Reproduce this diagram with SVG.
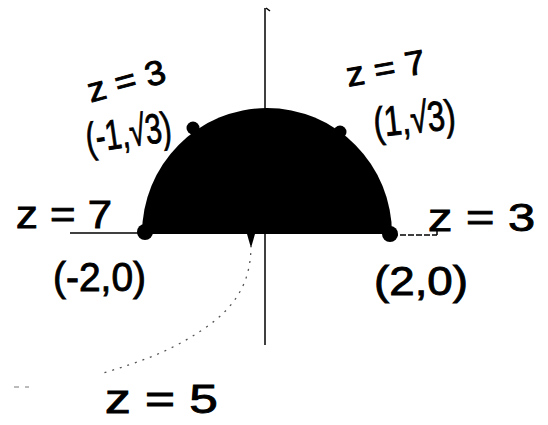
<svg xmlns="http://www.w3.org/2000/svg" width="548" height="425" viewBox="0 0 548 425">
<style>
.lbl{font-family:"Liberation Sans","DejaVu Sans",sans-serif;fill:#000;stroke:#000;stroke-width:0.9}
.ax{stroke:#000;stroke-width:1.5;fill:none}
</style>
<rect width="548" height="425" fill="#fff"/>
<g id="axes">
<line class="ax" x1="265" y1="8" x2="265" y2="345"/>
<line class="ax" x1="266" y1="8" x2="270" y2="11"/>
<line class="ax" x1="70" y1="233" x2="142" y2="233"/>
<line class="ax" x1="392" y1="235" x2="437" y2="235" stroke-dasharray="6 2"/>
<line class="ax" x1="437" y1="229" x2="437" y2="235" stroke-width="1"/>
</g>
<g id="region">
<path d="M142 234 A125 126 0 0 1 392 234 Z" fill="#000"/>
<circle cx="145" cy="232" r="8" fill="#000"/>
<circle cx="390" cy="234" r="8" fill="#000"/>
<circle cx="193" cy="128" r="6.5" fill="#000"/>
<circle cx="340" cy="132" r="6.5" fill="#000"/>
</g>
<g id="connectors">
<path d="M247 234 L255 234 L251 248 Z" fill="#000"/>
<path d="M251 245 C251 280 238 305 205 328 S140 362 100 374" fill="none" stroke="#555" stroke-width="1.3" stroke-dasharray="2 6"/>
<path d="M14 387 L19 387 M25 387 L29 387" stroke="#777" stroke-width="1"/>
</g>
<g id="labels">
<text class="lbl" x="86" y="93" font-size="34" textLength="80" lengthAdjust="spacingAndGlyphs" transform="rotate(-15 124 80)">z = 3</text>
<text class="lbl" x="85" y="147" font-size="42" textLength="86" lengthAdjust="spacingAndGlyphs" transform="rotate(-8 127 130)">(-1,√3)</text>
<text class="lbl" x="345" y="80" font-size="34" textLength="80" lengthAdjust="spacingAndGlyphs" transform="rotate(-10 385 65)">z = 7</text>
<text class="lbl" x="373" y="133" font-size="42" textLength="82" lengthAdjust="spacingAndGlyphs" transform="rotate(-6 414 115)">(1,√3)</text>
<text class="lbl" x="16" y="228" font-size="38" textLength="96" lengthAdjust="spacingAndGlyphs">z = 7</text>
<text class="lbl" x="428" y="231" font-size="38" textLength="107" lengthAdjust="spacingAndGlyphs">z = 3</text>
<text class="lbl" x="53" y="291" font-size="40" textLength="93" lengthAdjust="spacingAndGlyphs">(-2,0)</text>
<text class="lbl" x="374" y="295" font-size="40" textLength="94" lengthAdjust="spacingAndGlyphs">(2,0)</text>
<text class="lbl" x="105" y="413" font-size="40" textLength="113" lengthAdjust="spacingAndGlyphs">z = 5</text>
</g>
</svg>
